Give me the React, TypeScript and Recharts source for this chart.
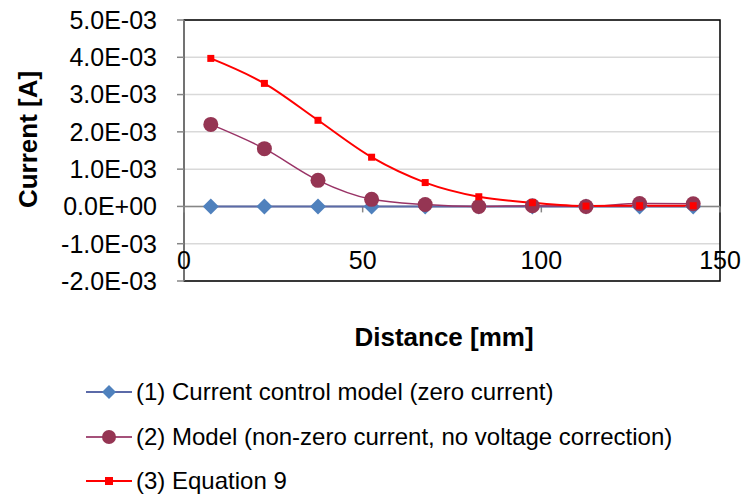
import React from 'react';
import { LineChart, Line, XAxis, YAxis, CartesianGrid, ReferenceLine, ReferenceArea, Legend, Label } from 'recharts';

const distances = [7.5, 22.5, 37.5, 52.5, 67.5, 82.5, 97.5, 112.5, 127.5, 142.5];
const zeroCurrent = [0, 0, 0, 0, 0, 0, 0, 0, 0, 0];
const modelCurrent = [2.2e-3, 1.55e-3, 0.7e-3, 0.19e-3, 0.05e-3, 0.0, 0.02e-3, 0.0, 0.08e-3, 0.07e-3];
const equation9 = [3.97e-3, 3.3e-3, 2.31e-3, 1.32e-3, 0.64e-3, 0.26e-3, 0.1e-3, 0.01e-3, 0.02e-3, 0.02e-3];

const xTicks = [0, 50, 100, 150];
const yTicks = [-0.002, -0.001, 0, 0.001, 0.002, 0.003, 0.004, 0.005];

const seriesNames = [
  '(1) Current control model (zero current)',
  '(2) Model (non-zero current, no voltage correction)',
  '(3) Equation 9',
];

const data = distances.map((d, i) => ({
  distance: d,
  s1: zeroCurrent[i],
  s2: modelCurrent[i],
  s3: equation9[i],
}));

const FONT = '"Liberation Sans", Arial, sans-serif';
const AXIS_GRAY = '#868686';

function sci(v: number) {
  if (Math.abs(v) < 1e-12) return '0.0E+00';
  const [m, e] = v.toExponential(1).split('e');
  const n = parseInt(e, 10);
  return `${m}E${n < 0 ? '-' : '+'}${String(Math.abs(n)).padStart(2, '0')}`;
}

const DIAMOND_R = 8;
const SQUARE_HALF = 3.5;

const Diamond = (props: any) => {
  const { cx, cy } = props;
  if (cx == null || cy == null) return null;
  const r = DIAMOND_R;
  return <path d={`M${cx},${cy - r}L${cx + r},${cy}L${cx},${cy + r}L${cx - r},${cy}Z`} fill="#4f81bd" />;
};

const Square = (props: any) => {
  const { cx, cy } = props;
  if (cx == null || cy == null) return null;
  const s = SQUARE_HALF;
  return <rect x={cx - s} y={cy - s} width={s * 2} height={s * 2} fill="#ff0000" />;
};

const XTick = (props: any) => {
  const { x, y, payload } = props;
  return (
    <text x={x} y={y - 29} textAnchor="middle" dominantBaseline="central" fontSize={25} fill="#000" fontFamily={FONT}>
      {payload.value}
    </text>
  );
};

const legendIcons = [
  { line: '#5b6aa8', marker: (cx: number, cy: number) => <path d={`M${cx},${cy - 7}L${cx + 7},${cy}L${cx},${cy + 7}L${cx - 7},${cy}Z`} fill="#4f81bd" /> },
  { line: '#a5517a', marker: (cx: number, cy: number) => <circle cx={cx} cy={cy} r={7} fill="#953553" /> },
  { line: '#ff0000', marker: (cx: number, cy: number) => <rect x={cx - 4} y={cy - 4} width={8} height={8} fill="#ff0000" /> },
];

const renderLegend = () => (
  <div style={{ fontFamily: FONT, fontSize: 24, color: '#000' }}>
    {seriesNames.map((name, i) => (
      <div key={name} style={{ display: 'flex', alignItems: 'center', height: 44.5, whiteSpace: 'nowrap' }}>
        <svg width={46} height={20} style={{ flex: 'none' }}>
          <line x1={0} y1={10} x2={46} y2={10} stroke={legendIcons[i].line} strokeWidth={2} />
          {legendIcons[i].marker(23, 10)}
        </svg>
        <span style={{ marginLeft: 4 }}>{name}</span>
      </div>
    ))}
  </div>
);

export default function App() {
  return (
    <div style={{ position: 'absolute', left: 0, top: 0, width: 745, height: 499, background: '#fff', fontFamily: FONT }}>
      <LineChart width={745} height={499} data={data} margin={{ top: 20, right: 25, bottom: 188, left: 0 }}>
        <CartesianGrid horizontal vertical={false} stroke="#d9d9d9" strokeWidth={1.5} />
        <ReferenceArea x1={0} x2={150} y1={-0.002} y2={0.005} fill="none" stroke="#000" strokeWidth={1.5} ifOverflow="visible" />
        <XAxis
          dataKey="distance"
          type="number"
          domain={[0, 150]}
          ticks={xTicks}
          axisLine={false}
          tickLine={false}
          tick={<XTick />}
          height={30}
        >
          <Label
            content={(p: any) => {
              const vb = p.viewBox;
              return (
                <text x={vb.x + vb.width / 2 - 8} y={vb.y + 56} textAnchor="middle" dominantBaseline="central" fontSize={26} fontWeight="bold" fontFamily={FONT} fill="#000">
                  Distance [mm]
                </text>
              );
            }}
          />
        </XAxis>
        <YAxis
          type="number"
          domain={[-0.002, 0.005]}
          ticks={yTicks}
          tickFormatter={sci}
          width={184}
          tickSize={7}
          tickMargin={20}
          axisLine={{ stroke: AXIS_GRAY, strokeWidth: 1.5 }}
          tickLine={{ stroke: AXIS_GRAY, strokeWidth: 1.5 }}
          tick={{ fontSize: 25, fill: '#000', fontFamily: FONT }}
        >
          <Label
            content={(p: any) => {
              const vb = p.viewBox;
              const cx = vb.x + 28;
              const cy = vb.y + vb.height / 2 - 11;
              return (
                <text x={cx} y={cy} transform={`rotate(-90, ${cx}, ${cy})`} textAnchor="middle" dominantBaseline="central" fontSize={26} fontWeight="bold" fontFamily={FONT} fill="#000">
                  Current [A]
                </text>
              );
            }}
          />
        </YAxis>
        <ReferenceLine y={0} stroke={AXIS_GRAY} strokeWidth={1.5} />
        {xTicks.map((t) => (
          <ReferenceLine
            key={t}
            segment={[{ x: t, y: 0 }, { x: t, y: -0.00016 }]}
            stroke={AXIS_GRAY}
            strokeWidth={1.5}
            ifOverflow="visible"
          />
        ))}
        <Legend
          layout="vertical"
          align="center"
          verticalAlign="middle"
          content={renderLegend}
          wrapperStyle={{ top: 370, left: 86, width: 640, height: 135 }}
        />
        <Line
          type="linear"
          dataKey="s1"
          name={seriesNames[0]}
          stroke="#5b6aa8"
          strokeWidth={2}
          dot={<Diamond />}
          activeDot={false}
          isAnimationActive={false}
        />
        <Line
          type="monotone"
          dataKey="s2"
          name={seriesNames[1]}
          stroke="#993366"
          strokeWidth={1.5}
          dot={{ r: 7.5, fill: '#953553', stroke: '#953553', strokeWidth: 0 }}
          activeDot={false}
          isAnimationActive={false}
        />
        <Line
          type="monotone"
          dataKey="s3"
          name={seriesNames[2]}
          stroke="#ff0000"
          strokeWidth={2}
          dot={<Square />}
          activeDot={false}
          isAnimationActive={false}
        />
      </LineChart>
    </div>
  );
}
